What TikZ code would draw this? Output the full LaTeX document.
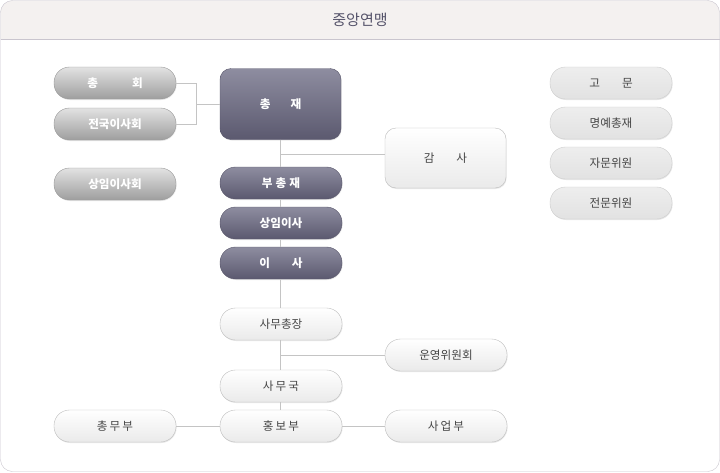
\documentclass[tikz,border=0pt]{standalone}
\usepackage{fontspec}
\setmainfont{Noto Sans CJK KR}
\usetikzlibrary{positioning,shadows}
\definecolor{framec}{HTML}{C9C5CE}
\definecolor{hdrc}{HTML}{F4F1F0}
\definecolor{titlec}{HTML}{55536A}
\definecolor{linec}{HTML}{C4C4C4}
\definecolor{dtop}{HTML}{8E8DA0}
\definecolor{dbot}{HTML}{5B596F}
\definecolor{dline}{HTML}{5A586C}
\definecolor{gtop}{HTML}{E2E2E2}
\definecolor{gbot}{HTML}{9E9E9E}
\definecolor{gline}{HTML}{9A9A9A}
\definecolor{ltop}{HTML}{FFFFFF}
\definecolor{lbot}{HTML}{EAEAEA}
\definecolor{lline}{HTML}{BDBDBD}
\definecolor{ltext}{HTML}{454545}
\definecolor{rfill}{HTML}{E2E2E2}
\definecolor{rline}{HTML}{CDCDCD}
\tikzstyle{conn} = [draw=linec, line width=1pt]
\tikzstyle{pill} = [rectangle, rounded corners=15.5, minimum width=122, minimum height=32, inner sep=0, font=\fontsize{11.6}{14}\selectfont, drop shadow={opacity=0.18, shadow xshift=0.6pt, shadow yshift=-1pt}]
\tikzstyle{dpill} = [pill, draw=dline, top color=dtop, bottom color=dbot, text=white, font=\bfseries\fontsize{11.6}{14}\selectfont]
\tikzstyle{gpill} = [pill, draw=gline, top color=gtop, bottom color=gbot, text=white, font=\bfseries\fontsize{11.6}{14}\selectfont]
\tikzstyle{lpill} = [pill, draw=lline, top color=ltop, bottom color=lbot, text=ltext]
\tikzstyle{rpill} = [pill, draw=rline, top color=rfill!60!white, bottom color=rfill, text=ltext]
\tikzstyle{dbox} = [dpill, rounded corners=11, minimum width=121, minimum height=71]
\tikzstyle{lbox} = [lpill, rounded corners=11, minimum width=121, minimum height=60]

\begin{document}
\begin{tikzpicture}[x=1pt, y=-1pt]
    \useasboundingbox (0,0) rectangle (720,472);
    % frame and header
    \begin{scope}
    \clip [rounded corners=12] (0.5,0.5) rectangle (719.5,471.5);
    \fill [white] (0,0) rectangle (720,472);
    \fill [hdrc] (0,0) rectangle (720,39.5);
    \end{scope}
    \draw [framec] (0.5,39.5) -- (719.5,39.5);
    \draw [framec, rounded corners=12] (0.5,0.5) rectangle (719.5,471.5);
    \node [text=titlec, font=\fontsize{15}{17}\selectfont] (title) at (360,20) {중앙연맹};

    % connectors
    \coordinate (j1) at (196,104);
    \coordinate (j2) at (280.5,154);
    \coordinate (j3) at (280.5,355);

    % left column
    \node [gpill] (gh) at (115,83) {총\hspace{34pt}회};
    \node [gpill] (jg) at (115,124) {전국이사회};
    \node [gpill] (sh) at (115,184) {상임이사회};

    % center column
    \node [dbox] (cj) at (280.5,104) {총\hspace{20pt}재};
    \node [dpill] (bc) at (281,183) {부\hspace{3pt}총\hspace{3pt}재};
    \node [dpill] (si) at (281,223) {상임이사};
    \node [dpill] (is) at (281,263) {이\hspace{22pt}사};
    \node [lpill] (sc) at (281,324) {사무총장};
    \node [lpill] (sg) at (281,386) {사\hspace{2pt}무\hspace{2pt}국};
    \node [lpill] (hb) at (281,426) {홍\hspace{2pt}보\hspace{2pt}부};

    % side branches
    \node [lbox] (gs) at (445.5,158) {감\hspace{22pt}사};
    \node [lpill] (uw) at (446,355) {운영위원회};
    \node [lpill] (cm) at (115,426) {총\hspace{2pt}무\hspace{2pt}부};
    \node [lpill] (sb) at (446,426) {사\hspace{2pt}업\hspace{2pt}부};

    % right column
    \node [rpill] (gm) at (611,83) {고\hspace{22pt}문};
    \node [rpill] (my) at (611,123) {명예총재};
    \node [rpill] (jm) at (611,163) {자문위원};
    \node [rpill] (jw) at (611,203) {전문위원};

    \draw [conn] (gh.east) -| (j1);
    \draw [conn] (jg.east) -| (j1);
    \draw [conn] (j1) -- (cj.west);
    \draw [conn] (cj.south) -- (bc.north -| cj.south);
    \draw [conn] (j2) -- (j2 -| gs.west);
    \draw [conn] (bc.south -| cj.south) -- (si.north -| cj.south);
    \draw [conn] (si.south -| cj.south) -- (is.north -| cj.south);
    \draw [conn] (is.south -| cj.south) -- (sc.north -| cj.south);
    \draw [conn] (sc.south -| cj.south) -- (sg.north -| cj.south);
    \draw [conn] (j3) -- (uw.west);
    \draw [conn] (sg.south -| cj.south) -- (hb.north -| cj.south);
    \draw [conn] (cm.east) -- (hb.west);
    \draw [conn] (hb.east) -- (sb.west);
\end{tikzpicture}
\end{document}
